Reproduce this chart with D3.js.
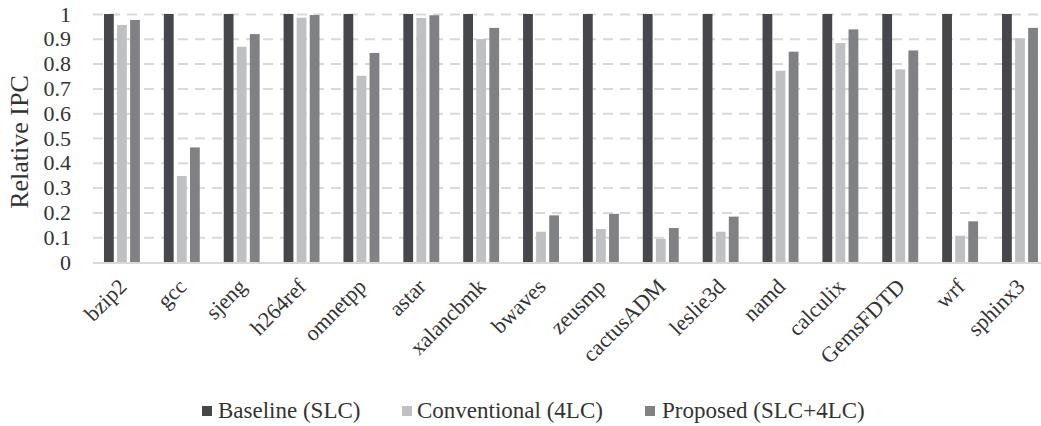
<!DOCTYPE html>
<html>
<head>
  <meta charset="utf-8" />
  <title>Relative IPC</title>
  <style>
    body { margin: 0; background: #fff; }
    svg, svg text { font-family: "Liberation Serif", "Times New Roman", serif; }
    .grid line { stroke: #d9d9d9; stroke-width: 2px; stroke-dasharray: 10 7; }
    .grid path { display: none; }
    .yAxis path, .yAxis line { display: none; }
    .xAxis path, .xAxis line { display: none; }
    .tick text { fill: #333; }
  </style>
  <script src="https://cdnjs.cloudflare.com/ajax/libs/d3/7.8.5/d3.min.js"></script>
</head>
<body>
  <div id="chart"></div>
  <script>
    var categories = ['bzip2', 'gcc', 'sjeng', 'h264ref', 'omnetpp', 'astar', 'xalancbmk', 'bwaves',
      'zeusmp', 'cactusADM', 'leslie3d', 'namd', 'calculix', 'GemsFDTD', 'wrf', 'sphinx3'];
    var seriesNames = ['Baseline (SLC)', 'Conventional (4LC)', 'Proposed (SLC+4LC)'];
    var baseline = [1, 1, 1, 1, 1, 1, 1, 1, 1, 1, 1, 1, 1, 1, 1, 1];
    var conventional = [0.956, 0.347, 0.868, 0.985, 0.751, 0.984, 0.899, 0.122,
      0.133, 0.093, 0.122, 0.771, 0.883, 0.777, 0.106, 0.902];
    var proposed = [0.976, 0.462, 0.919, 0.996, 0.843, 0.995, 0.944, 0.188,
      0.194, 0.137, 0.183, 0.848, 0.938, 0.853, 0.164, 0.944];
    var yTicks = [0, 0.1, 0.2, 0.3, 0.4, 0.5, 0.6, 0.7, 0.8, 0.9, 1];
    var colors = ['#46474a', '#bfc0c3', '#808184'];

    var width = 1041, height = 426;
    var plotLeft = 92, plotTop = 14, plotH = 248;
    var bandW = 59.87;

    var svg = d3.select('#chart').append('svg')
      .attr('width', width)
      .attr('height', height);

    var x = d3.scaleBand()
      .domain(categories)
      .range([plotLeft, plotLeft + bandW * categories.length])
      .paddingInner(0.4)
      .paddingOuter(0.2);

    var xInner = d3.scaleBand()
      .domain(d3.range(3))
      .range([0, x.bandwidth()])
      .paddingInner(0.25);

    var y = d3.scaleLinear()
      .domain([0, 1])
      .range([plotTop + plotH, plotTop]);

    // dashed gridlines
    svg.append('g')
      .attr('class', 'grid')
      .attr('transform', 'translate(' + (plotLeft + 1) + ',0)')
      .call(d3.axisLeft(y).tickValues(yTicks.slice(1)).tickSize(-(1038 - plotLeft - 1)).tickFormat(''));

    // baseline axis line
    svg.append('line')
      .attr('x1', plotLeft + 1).attr('x2', width)
      .attr('y1', y(0) + 1).attr('y2', y(0) + 1)
      .attr('stroke', '#d9d9d9').attr('stroke-width', 2);

    var series = [baseline, conventional, proposed];
    series.forEach(function (vals, s) {
      svg.append('g').selectAll('rect')
        .data(vals)
        .enter()
        .append('rect')
        .attr('x', (d, i) => x(categories[i]) + xInner(s))
        .attr('y', d => y(d))
        .attr('width', xInner.bandwidth())
        .attr('height', d => y(0) - y(d))
        .attr('fill', colors[s]);
    });

    // y axis
    var yAxis = svg.append('g')
      .attr('class', 'yAxis')
      .attr('transform', 'translate(' + 71 + ',0)')
      .call(d3.axisLeft(y).tickValues(yTicks).tickSize(0).tickPadding(0).tickFormat(d3.format('')));
    yAxis.attr('font-family', null).attr('font-size', null);
    yAxis.selectAll('text')
      .attr('font-size', 22)
      .attr('dy', '0.32em');

    svg.append('text')
      .attr('transform', 'translate(28,' + 142 + ') rotate(-90)')
      .attr('text-anchor', 'middle')
      .attr('font-size', 26)
      .attr('fill', '#333')
      .text('Relative IPC');

    // x axis labels
    var xAxis = svg.append('g')
      .attr('class', 'xAxis')
      .attr('transform', 'translate(0,' + y(0) + ')')
      .call(d3.axisBottom(x).tickSize(0).tickPadding(0));
    xAxis.attr('font-family', null).attr('font-size', null);
    xAxis.selectAll('text')
      .attr('font-size', 22)
      .attr('text-anchor', 'end')
      .attr('y', 0)
      .attr('dy', 0)
      .attr('transform', 'translate(6,26) rotate(-45)');

    // legend
    var legendBoxX = [202, 402, 645];
    var legendTextX = [218, 417, 662];
    var legend = svg.append('g');
    seriesNames.forEach(function (name, i) {
      legend.append('rect')
        .attr('x', legendBoxX[i]).attr('y', 406)
        .attr('width', 10).attr('height', 10)
        .attr('fill', colors[i]);
      legend.append('text')
        .attr('x', legendTextX[i]).attr('y', 418)
        .attr('font-size', 23)
        .attr('fill', '#333')
        .text(name);
    });
  </script>
</body>
</html>
